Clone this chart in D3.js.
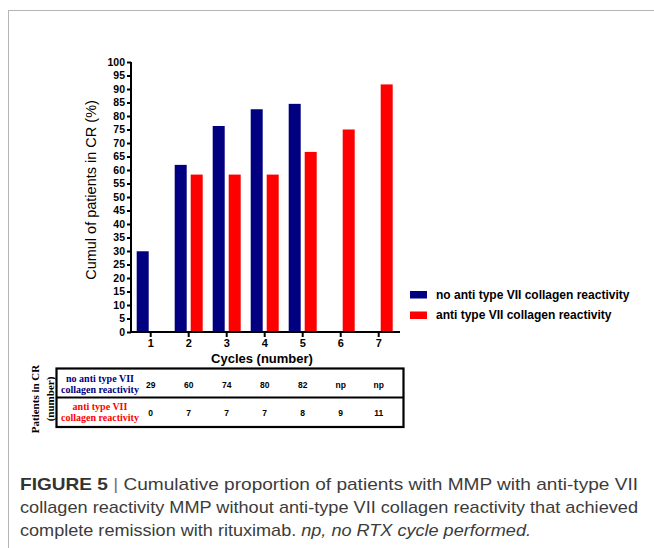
<!DOCTYPE html>
<html>
<head>
<meta charset="utf-8">
<script src="https://cdn.jsdelivr.net/npm/d3@7"></script>
<style>
  body { margin: 0; background: #fff; }
  svg { display: block; }
</style>
</head>
<body>
<svg id="fig" width="654" height="548"></svg>
<script>
// values
var cycles = ["1", "2", "3", "4", "5", "6", "7"];
var seriesNames = ["no anti type VII collagen reactivity", "anti type VII collagen reactivity"];
var noAntiPct = [29.9, 61.9, 76.3, 82.5, 84.5, null, null];
var antiPct = [0, 58.3, 58.3, 58.3, 66.7, 75, 91.7];
var noAntiCounts = ["29", "60", "74", "80", "82", "np", "np"];
var antiCounts = ["0", "7", "7", "7", "8", "9", "11"];
var yTicks = d3.range(0, 101, 5);
var colors = ["#000080", "#ff0000"];
var captionLines = [
    "Cumulative proportion of patients with MMP with anti-type VII",
    "collagen reactivity MMP without anti-type VII collagen reactivity that achieved",
    "complete remission with rituximab. "
];

var svg = d3.select("#fig");

// frame of the figure panel
svg.append("line").attr("x1", 8).attr("x2", 654).attr("y1", 10.5).attr("y2", 10.5)
    .attr("stroke", "#b5b5b5").attr("stroke-width", 1);
svg.append("line").attr("x1", 8.5).attr("x2", 8.5).attr("y1", 10).attr("y2", 548)
    .attr("stroke", "#b5b5b5").attr("stroke-width", 1);

var x = d3.scaleBand().domain(cycles).range([131.7, 397.7]),
    x1 = d3.scaleBand().domain([0, 1]).range([-14, 14]).paddingInner(0.25),
    y = d3.scaleLinear().domain([0, 100]).range([332, 62]);

var g = svg.append("g");

var rows = cycles.map(function(c, i) {
    return { cycle: c, vals: [noAntiPct[i], antiPct[i]] };
});

g.selectAll(".grp")
    .data(rows)
    .enter().append("g")
    .attr("class", "grp")
    .attr("transform", function(d) {
        return "translate(" + (x(d.cycle) + x.bandwidth() / 2) + ",0)";
    })
    .selectAll("rect")
    .data(function(d) {
        return d.vals.map(function(v, k) { return { k: k, v: v }; })
            .filter(function(e) { return e.v != null && e.v > 0; });
    })
    .enter().append("rect")
    .attr("x", function(e) { return x1(e.k); })
    .attr("width", x1.bandwidth())
    .attr("y", function(e) { return y(e.v); })
    .attr("height", function(e) { return y(0) - y(e.v); })
    .attr("fill", function(e) { return colors[e.k]; });

// axes
var yAxis = g.append("g")
    .attr("transform", "translate(131,0)")
    .call(d3.axisLeft(y).tickValues(yTicks).tickSize(4).tickPadding(2));
var xAxis = g.append("g")
    .attr("transform", "translate(0,332)")
    .call(d3.axisBottom(x).tickSize(5).tickPadding(2));
xAxis.select(".domain").attr("d", "M131,0H400");
yAxis.select(".domain").attr("d", "M0,62V333");

[yAxis, xAxis].forEach(function(a) {
    a.selectAll(".domain, line").attr("stroke", "#000").attr("stroke-width", 2);
    a.selectAll("text")
        .attr("fill", "#000")
        .style("font-family", "Liberation Sans, Arial, sans-serif")
        .style("font-weight", "bold");
});
yAxis.selectAll("text").style("font-size", "10.5px");
xAxis.selectAll("text").style("font-size", "11px");

g.append("text")
    .attr("transform", "translate(96,190) rotate(-90)")
    .attr("text-anchor", "middle")
    .style("font-family", "Liberation Sans, Arial, sans-serif")
    .style("font-size", "14.5px")
    .text("Cumul of patients in CR (%)");

g.append("text")
    .attr("x", 262).attr("y", 363)
    .attr("text-anchor", "middle")
    .style("font-family", "Liberation Sans, Arial, sans-serif")
    .style("font-size", "13px")
    .style("font-weight", "bold")
    .text("Cycles (number)");

// legend
var leg = g.selectAll(".leg")
    .data(seriesNames)
    .enter().append("g")
    .attr("class", "leg")
    .attr("transform", function(d, i) { return "translate(410," + (291 + i * 20.5) + ")"; });
leg.append("rect").attr("width", 17).attr("height", 7.5)
    .attr("fill", function(d, i) { return colors[i]; });
leg.append("text").attr("x", 26).attr("y", 7.5)
    .style("font-family", "Liberation Sans, Arial, sans-serif")
    .style("font-size", "12px")
    .style("font-weight", "bold")
    .text(function(d) { return d; });

// table of patient counts
var tbl = svg.append("g");
tbl.append("rect").attr("x", 56.5).attr("y", 368.5).attr("width", 347).attr("height", 58.5)
    .attr("fill", "none").attr("stroke", "#000").attr("stroke-width", 2.2);
tbl.append("line").attr("x1", 56.5).attr("x2", 403.5).attr("y1", 397.5).attr("y2", 397.5)
    .attr("stroke", "#000").attr("stroke-width", 2);

var rowLabels = [["no anti type VII", "collagen reactivity"], ["anti type VII", "collagen reactivity"]];
var rowBase = [381.5, 409.5];
rowLabels.forEach(function(lines, r) {
    tbl.append("text")
        .attr("x", 100).attr("y", rowBase[r])
        .attr("text-anchor", "middle")
        .attr("fill", colors[r])
        .style("font-family", "Liberation Serif, Times New Roman, serif")
        .style("font-size", "10px")
        .style("font-weight", "bold")
        .selectAll("tspan")
        .data(lines)
        .enter().append("tspan")
        .attr("x", 100)
        .attr("dy", function(d, i) { return i ? 11 : 0; })
        .text(function(d) { return d; });
});

[noAntiCounts, antiCounts].forEach(function(arr, r) {
    tbl.selectAll(".cnt" + r)
        .data(arr)
        .enter().append("text")
        .attr("class", "cnt" + r)
        .attr("x", function(d, i) { return x(cycles[i]) + x.bandwidth() / 2; })
        .attr("y", r ? 416 : 387.5)
        .attr("text-anchor", "middle")
        .style("font-family", "Liberation Sans, Arial, sans-serif")
        .style("font-size", "8.5px")
        .style("font-weight", "bold")
        .text(function(d) { return d; });
});

tbl.append("text")
    .attr("transform", "translate(39,399) rotate(-90)")
    .attr("text-anchor", "middle")
    .style("font-family", "Liberation Serif, Times New Roman, serif")
    .style("font-size", "11px")
    .style("font-weight", "bold")
    .selectAll("tspan")
    .data(["Patients in CR", "(number)"])
    .enter().append("tspan")
    .attr("x", 0)
    .attr("dy", function(d, i) { return i ? 15 : 0; })
    .text(function(d) { return d; });

// caption
var cap = svg.append("g")
    .style("font-family", "Liberation Sans, Arial, sans-serif")
    .style("font-size", "17px")
    .attr("fill", "#3c3c3c");
var c1 = cap.append("text").attr("x", 20).attr("y", 490).attr("textLength", 618).attr("lengthAdjust", "spacingAndGlyphs");
c1.append("tspan").style("font-weight", "bold").attr("fill", "#333").text("FIGURE 5");
c1.append("tspan").attr("fill", "#777").text(" | ");
c1.append("tspan").text(captionLines[0]);
cap.append("text").attr("x", 20).attr("y", 513).attr("textLength", 618).attr("lengthAdjust", "spacingAndGlyphs")
    .text(captionLines[1]);
var c3 = cap.append("text").attr("x", 20).attr("y", 536).attr("textLength", 511).attr("lengthAdjust", "spacingAndGlyphs");
c3.append("tspan").text(captionLines[2]);
c3.append("tspan").style("font-style", "italic").text("np, no RTX cycle performed.");
</script>
</body>
</html>
